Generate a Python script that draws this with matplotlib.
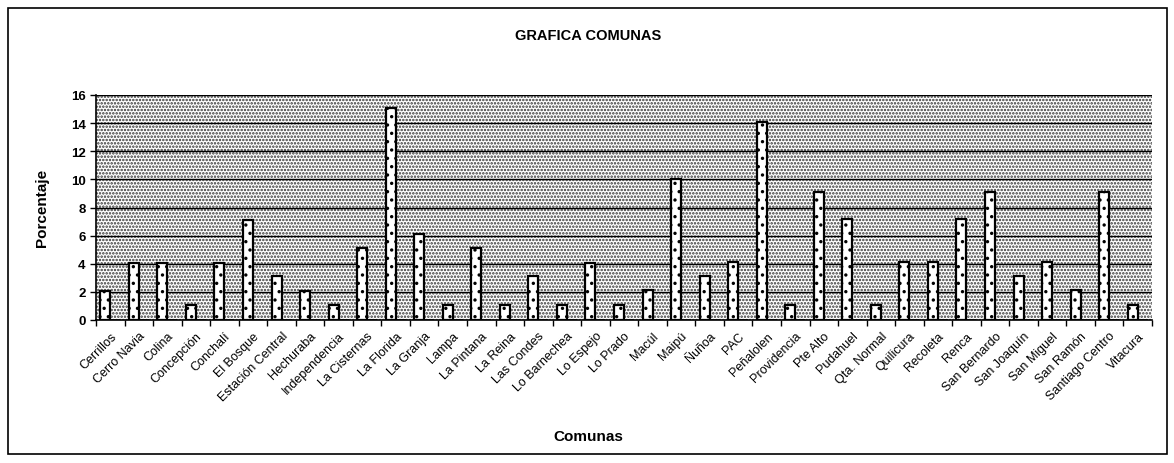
import numpy as np
import matplotlib
matplotlib.use('Agg')
import matplotlib.pyplot as plt
from matplotlib.patches import Rectangle

comunas = ['Cerrillos', 'Cerro Navia', 'Colina', 'Concepción', 'Conchalí', 'El Bosque',
           'Estación Central', 'Hechuraba', 'Independencia', 'La Cisternas', 'La Florida',
           'La Granja', 'Lampa', 'La Pintana', 'La Reina', 'Las Condes', 'Lo Barnechea',
           'Lo Espejo', 'Lo Prado', 'Macúl', 'Maipú', 'Ñuñoa', 'PAC', 'Peñalolen',
           'Providencia', 'Pte Alto', 'Pudahuel', 'Qta. Normal', 'Quilicura', 'Recoleta',
           'Renca', 'San Bernardo', 'San Joaquín', 'San Miguel', 'San Ramón',
           'Santiago Centro', 'Vitacura']
porcentaje = [2.05, 4.05, 4.05, 1.05, 4.05, 7.1, 3.1, 2.05, 1.05, 5.1, 15.1,
              6.1, 1.05, 5.1, 1.05, 3.1, 1.05, 4.05, 1.05, 2.1, 10.05, 3.15, 4.1, 14.1,
              1.05, 9.1, 7.15, 1.05, 4.1, 4.1, 7.15, 9.1, 3.15, 4.1, 2.15,
              9.1, 1.05]
segunda = [0] * len(comunas)

plt.rcParams['font.family'] = ['Liberation Sans', 'DejaVu Sans']
plt.rcParams['hatch.linewidth'] = 1.2

fig = plt.figure(figsize=(11.74, 4.64), dpi=100)
fig.patches.append(Rectangle((8 / 1174, 9 / 464), 1159 / 1174, 446 / 464,
                             transform=fig.transFigure, fill=False,
                             edgecolor='black', linewidth=1.2))

ax = fig.add_axes([96 / 1174, 143 / 464, 1056 / 1174, 225 / 464])

x = np.arange(len(comunas))
w = 0.35
# fondo punteado
ax.add_patch(Rectangle((0, 0), 1, 1, transform=ax.transAxes, facecolor='white',
                       edgecolor='#333333', linewidth=0, hatch='.....', zorder=0))
for y in range(2, 17, 2):
    ax.axhline(y, color='black', linewidth=1.0, zorder=1)

ax.bar(x - w / 2, porcentaje, width=w, color='white', edgecolor='black',
       linewidth=1.6, hatch='..', zorder=3)
ax.bar(x + w / 2, segunda, width=w, color='white', edgecolor='black',
       linewidth=1.2, zorder=3)

ax.set_xlim(-0.5, len(comunas) - 0.5)
ax.set_ylim(0, 16)
ax.set_yticks(range(0, 17, 2))
ax.set_xticks(np.arange(len(comunas) + 1) - 0.5, minor=False)
ax.set_xticklabels([])
ax.set_xticks(x, minor=True)
ax.set_xticklabels(comunas, minor=True, rotation=45, ha='right',
                   rotation_mode='anchor', fontsize=9)
ax.tick_params(axis='x', which='minor', length=0, pad=7)
ax.tick_params(axis='x', which='major', length=4, direction='out', width=1)
ax.tick_params(axis='y', length=4, width=1, labelsize=9.5)
for t in ax.get_yticklabels():
    t.set_fontweight('bold')

for s in ['top', 'right']:
    ax.spines[s].set_visible(False)
ax.spines['left'].set_linewidth(1.2)
ax.spines['bottom'].set_linewidth(1.2)

fig.text(588 / 1174, 1 - 36 / 464, 'GRAFICA COMUNAS', ha='center', va='center',
         fontsize=10.5, fontweight='bold')
fig.text(42 / 1174, 1 - 208 / 464, 'Porcentaje', ha='center', va='center',
         rotation=90, fontsize=11, fontweight='bold')
fig.text(588 / 1174, 1 - 437 / 464, 'Comunas', ha='center', va='center',
         fontsize=11, fontweight='bold')

plt.savefig('out.png', dpi=100)
plt.close()
